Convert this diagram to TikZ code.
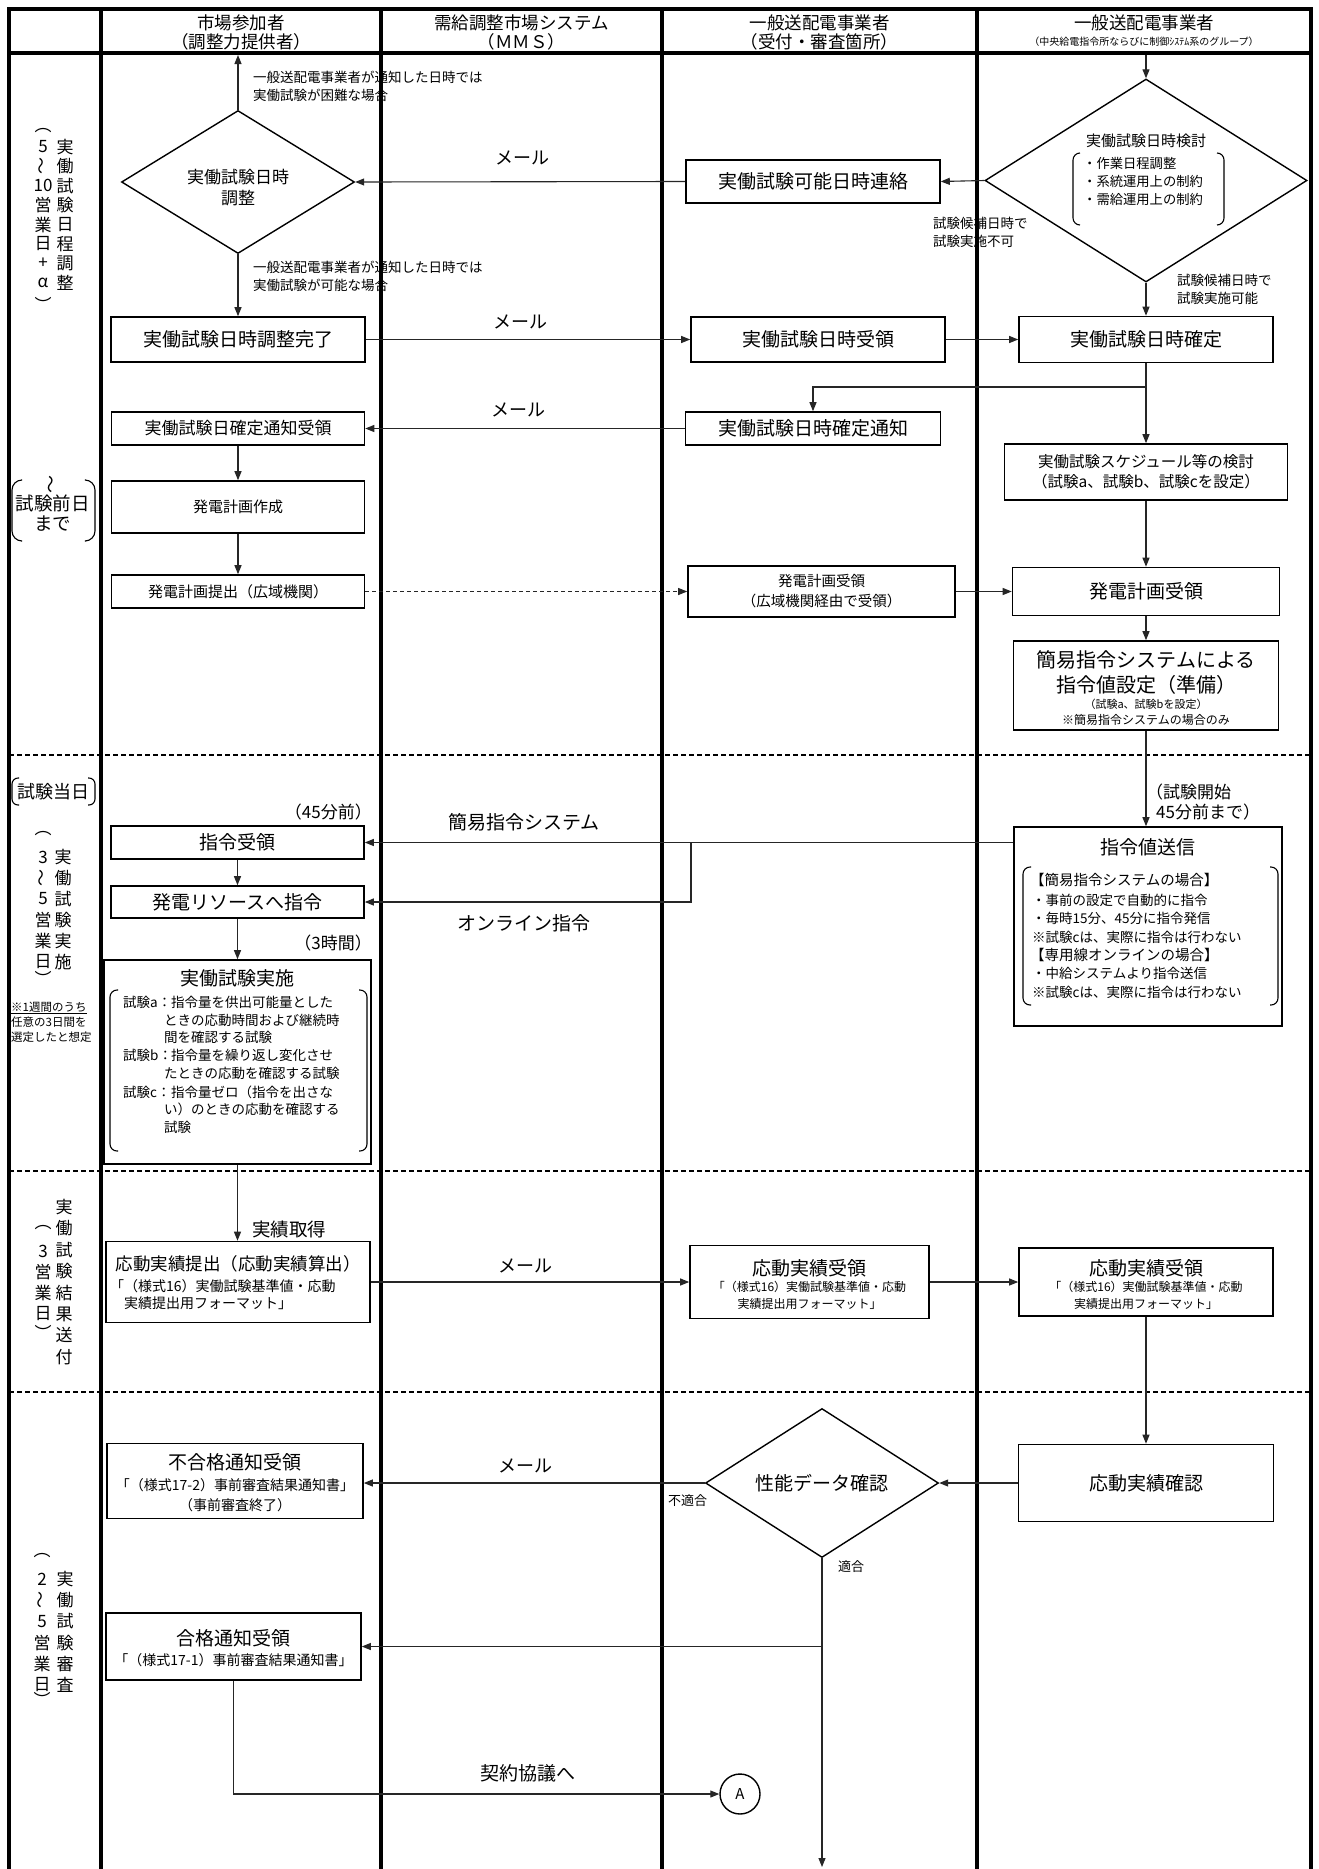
\documentclass[tikz,border=0pt]{standalone}
\usepackage{fontspec}
\usepackage{graphicx}
\setmainfont{Noto Sans CJK JP}
\usetikzlibrary{shapes.geometric,arrows.meta}
\newcommand\fsz[2]{\fontsize{#1}{#2}\selectfont}
\newcommand\vwave{\rotatebox[origin=c]{90}{〜}}
\newcommand\vcol[5]{\foreach \vchar [count=\k] in {#5}{\node[txt] (#1\k) at (#2,{#3+(\k-1)*#4}) {\vchar};}}
\begin{document}
\begin{tikzpicture}[x=1pt,y=-1pt,
  laneline/.style={line width=3.5pt,line cap=rect},
  rowsep/.style={line width=2pt,dash pattern=on 5pt off 3pt},
  bx/.style={draw,line width=1.6pt,fill=white,inner sep=0pt,align=center},
  dia/.style={diamond,draw,line width=1.4pt,inner sep=0pt,fill=white},
  txt/.style={inner sep=0pt,align=center},
  ltxt/.style={inner sep=0pt,align=left,anchor=west},
  brk/.style={line width=1.1pt,rounded corners=7pt},
  conn/.style={line width=1.1pt,draw=black!85,-{Triangle[length=9pt,width=7pt]}},
  ln/.style={line width=1.1pt,draw=black!85},
  big/.style={font={\fsz{19}{22}}},
  note/.style={font={\fsz{13.5}{18}}},
]
\useasboundingbox (0,0) rectangle (1319,1869);
\fill[white] (0,0) rectangle (1319,1869);
% frame
\draw[laneline] (9,9) -- (1311,9);
\draw[line width=4pt] (9,53) -- (1311,53);
\foreach \x in {9,101,381,662,977,1311} \draw[laneline] (\x,9) -- (\x,1869);
\foreach \y in {755,1171,1392} \draw[rowsep] (9,\y) -- (1311,\y);

% header
\begin{scope}[font={\fsz{17.5}{19}}]
\node[txt] (h1) at (241,32.5) {市場参加者\\（調整力提供者）};
\node[txt] (h2) at (521.5,32.5) {需給調整市場システム\\（ＭＭＳ）};
\node[txt] (h3) at (819.5,32.5) {一般送配電事業者\\（受付・審査箇所）};
\node[txt] (h4) at (1144,23) {一般送配電事業者};
\end{scope}
\node[txt,font={\fsz{10}{12}}] (h4s) at (1144,42) {（中央給電指令所ならびに制御ｼｽﾃﾑ系のグループ）};

% ---------- section 1 ----------
\begin{scope}[font={\fsz{17}{20}}]
\vcol{sa}{65}{147}{19.4}{実,働,試,験,日,程,調,整}
\vcol{sb}{43}{147}{19.4}{5,\vwave,10,営,業,日,+,α}
\node[txt] (sp1) at (43,131) {︵};
\node[txt] (sp2) at (43,304) {︶};
\end{scope}
\draw[brk,rounded corners=10pt] (21,480) -- (12,480) -- (12,541) -- (21,541);
\draw[brk,rounded corners=10pt] (86,480) -- (95,480) -- (95,541) -- (86,541);
\node[txt,font={\fsz{18}{20}}] (zen1) at (53,484) {\vwave};
\node[txt,font={\fsz{18.5}{20}}] (zen2) at (53,513) {試験前日\\まで};

\node[dia,minimum width=233pt,minimum height=143pt] (d1) at (238,182) {};
\node[txt,font={\fsz{17}{21}}] (d1t) at (238,187.5) {実働試験日時\\調整};
\coordinate (top1) at (238,55);
\draw[conn] (d1.north) -- (top1);
\node[ltxt,note] (n1) at (253,86) {一般送配電事業者が通知した日時では\\実働試験が困難な場合};
\node[ltxt,note] (n2) at (253,276.5) {一般送配電事業者が通知した日時では\\実働試験が可能な場合};
\node[txt,font={\fsz{18}{20}}] (m1) at (522,158) {メール};
\node[bx,big,minimum width=254pt,minimum height=43pt] (kano) at (813,181.5) {実働試験可能日時連絡};
\node[dia,minimum width=322pt,minimum height=203pt] (d2) at (1146,180.5) {};
\node[txt,font={\fsz{15}{18}}] (d2t) at (1146,141) {実働試験日時検討};
\begin{scope}[font={\fsz{13.3}{18}}]
\node[ltxt] (d2a) at (1083,163) {・作業日程調整};
\node[ltxt] (d2b) at (1083,181) {・系統運用上の制約};
\node[ltxt] (d2c) at (1083,199) {・需給運用上の制約};
\end{scope}
\draw[brk] (1080,153) -- (1073,153) -- (1073,225) -- (1080,225);
\draw[brk] (1217,153) -- (1224,153) -- (1224,225) -- (1217,225);
\coordinate (top2) at (1146,55);
\draw[conn] (top2) -- (d2.north);
\draw[conn] (d2.west) -- (kano.east);
\draw[conn] (kano.west) -- (d1.east);
\node[ltxt,note] (n3) at (933,232) {試験候補日時で\\試験実施不可};
\node[ltxt,note] (n4) at (1177,289.5) {試験候補日時で\\試験実施可能};

\node[bx,big,minimum width=254pt,minimum height=45pt] (kansei) at (238,339.5) {実働試験日時調整完了};
\node[bx,big,minimum width=254pt,minimum height=45pt] (juryo) at (818,339.5) {実働試験日時受領};
\node[bx,big,minimum width=254pt,minimum height=46pt] (kakutei) at (1146,339.5) {実働試験日時確定};
\draw[conn] (d1.south) -- (kansei.north);
\draw[conn] (d2.south) -- (kakutei.north);
\node[txt,font={\fsz{18}{20}}] (m2) at (520,322) {メール};
\draw[conn] (kansei.east) -- (juryo.west);
\draw[conn] (juryo.east) -- (kakutei.west);

\node[bx,big,minimum width=255pt,minimum height=33pt] (tsuchi) at (813,428.5) {実働試験日時確定通知};
\node[bx,minimum width=283pt,minimum height=56pt,font={\fsz{15.5}{20}}] (sched) at (1146,472) {実働試験スケジュール等の検討\\（試験a、試験b、試験cを設定）};
\coordinate (j1) at (1146,387);
\draw[ln] (kakutei.south) -- (j1);
\draw[conn] (j1) -| (tsuchi.north);
\draw[conn] (j1) -- (sched.north);
\node[txt,font={\fsz{18}{20}}] (m3) at (518,410) {メール};
\node[bx,minimum width=253pt,minimum height=33pt,font={\fsz{17}{20}}] (tjuryo) at (238,428.5) {実働試験日確定通知受領};
\draw[conn] (tsuchi.west) -- (tjuryo.east);
\node[bx,minimum width=253pt,minimum height=52pt,font={\fsz{15}{18}}] (sakusei) at (238,507) {発電計画作成};
\node[bx,minimum width=253pt,minimum height=33pt,font={\fsz{15}{18}}] (teishutsu) at (238,591.5) {発電計画提出（広域機関）};
\draw[conn] (tjuryo.south) -- (sakusei.north);
\draw[conn] (sakusei.south) -- (teishutsu.north);
\node[bx,minimum width=267pt,minimum height=51pt,font={\fsz{14.5}{20}}] (kjuryo) at (821.5,591.5) {発電計画受領\\（広域機関経由で受領）};
\draw[conn,dash pattern=on 4pt off 3pt,line width=0.9pt] (teishutsu.east) -- (kjuryo.west);
\node[bx,big,minimum width=267pt,minimum height=48pt] (hjuryo) at (1146,591.5) {発電計画受領};
\draw[conn] (kjuryo.east) -- (hjuryo.west);
\draw[conn] (sched.south) -- (hjuryo.north);

\node[bx,minimum width=265pt,minimum height=89pt] (kanni) at (1146,685.5) {};
\node[txt,font={\fsz{20}{24}}] (k1) at (1146,660) {簡易指令システムによる};
\node[txt,font={\fsz{20}{24}}] (k2) at (1146,685) {指令値設定（準備）};
\node[txt,font={\fsz{11}{13}}] (k3) at (1146,704) {（試験a、試験bを設定）};
\node[txt,font={\fsz{12}{14}}] (k4) at (1146,720) {※簡易指令システムの場合のみ};
\draw[conn] (hjuryo.south) -- (kanni.north);

% ---------- section 2 ----------
\draw[brk,rounded corners=6pt] (19,778) -- (12,778) -- (12,805) -- (19,805);
\draw[brk,rounded corners=6pt] (88,778) -- (95,778) -- (95,805) -- (88,805);
\node[txt,font={\fsz{18}{20}}] (td) at (53.5,791.5) {試験当日};
\begin{scope}[font={\fsz{17}{20}}]
\vcol{sc}{63}{857}{21}{実,働,試,験,実,施}
\vcol{sd}{43}{857}{21}{3,\vwave,5,営,業,日}
\node[txt] (sp3) at (43,834) {︵};
\node[txt] (sp4) at (43,978) {︶};
\end{scope}
\node[ltxt,font={\fsz{11.5}{15}}] (nt) at (11,1022) {\underline{※1週間のうち}\\任意の3日間を\\選定したと想定};

\node[txt,anchor=east,font={\fsz{17}{20}}] (t45) at (372,812) {（45分前）};
\node[bx,big,minimum width=253pt,minimum height=33pt] (shirei) at (237.5,842.5) {指令受領};
\node[bx,big,minimum width=253pt,minimum height=32pt] (resource) at (237.5,902) {発電リソースへ指令};
\draw[conn] (shirei.south) -- (resource.north);
\node[txt,anchor=east,font={\fsz{17}{20}}] (t3h) at (372,943) {（3時間）};
\node[bx,minimum width=267pt,minimum height=204pt] (jisshi) at (237.5,1062) {};
\draw[conn] (resource.south) -- (jisshi.north);
\node[txt,font={\fsz{19}{22}}] (jt) at (237.5,978) {実働試験実施};
\draw[brk] (118,990) -- (110,990) -- (110,1151) -- (118,1151);
\draw[brk] (359,990) -- (367,990) -- (367,1151) -- (359,1151);
\begin{scope}[font={\fsz{13.5}{17}}]
\node[ltxt] (ja) at (123,1002) {試験a：};
\node[ltxt] (ja1) at (171,1002) {指令量を供出可能量とした};
\node[ltxt] (ja2) at (164,1020) {ときの応動時間および継続時};
\node[ltxt] (ja3) at (164,1037) {間を確認する試験};
\node[ltxt] (jb) at (123,1055) {試験b：};
\node[ltxt] (jb1) at (171,1055) {指令量を繰り返し変化させ};
\node[ltxt] (jb2) at (164,1073) {たときの応動を確認する試験};
\node[ltxt] (jc) at (123,1092) {試験c：};
\node[ltxt] (jc1) at (171,1092) {指令量ゼロ（指令を出さな};
\node[ltxt] (jc2) at (164,1109) {い）のときの応動を確認する};
\node[ltxt] (jc3) at (164,1127) {試験};
\end{scope}

\node[bx,minimum width=268pt,minimum height=199pt] (sousin) at (1148,926.5) {};
\draw[conn] (kanni.south) -- (kanni.south |- sousin.north);
\node[ltxt,font={\fsz{17}{20}}] (ts1) at (1146,792) {（試験開始};
\node[ltxt,font={\fsz{17}{20}}] (ts2) at (1156,812) {45分前まで）};
\node[txt,font={\fsz{19}{22}}] (st) at (1148,847) {指令値送信};
\draw[brk] (1031,867) -- (1023,867) -- (1023,1005) -- (1031,1005);
\draw[brk] (1270,867) -- (1278,867) -- (1278,1005) -- (1270,1005);
\begin{scope}[font={\fsz{13.5}{17}}]
\node[ltxt,font={\fsz{14.5}{17}}] (s1) at (1030,880) {【簡易指令システムの場合】};
\node[ltxt] (s2) at (1032,900) {・事前の設定で自動的に指令};
\node[ltxt] (s3) at (1032,918) {・毎時15分、45分に指令発信};
\node[ltxt] (s4) at (1032,937) {※試験cは、実際に指令は行わない};
\node[ltxt,font={\fsz{14.5}{17}}] (s5) at (1030,955) {【専用線オンラインの場合】};
\node[ltxt] (s6) at (1032,973) {・中給システムより指令送信};
\node[ltxt] (s7) at (1032,992) {※試験cは、実際に指令は行わない};
\end{scope}
\draw[conn] (sousin.west |- shirei.east) -- (shirei.east);
\coordinate (j2) at (691,842.5);
\draw[conn] (j2) |- (resource.east);
\node[txt,font={\fsz{19}{22}}] (lk) at (524,822) {簡易指令システム};
\node[txt,font={\fsz{19}{22}}] (lo) at (524,923) {オンライン指令};

% ---------- section 3 ----------
\begin{scope}[font={\fsz{17}{20}}]
\vcol{se}{64}{1207}{21.4}{実,働,試,験,結,果,送,付}
\vcol{sf}{43}{1251}{21}{3,営,業,日}
\node[txt] (sp5) at (43,1228) {︵};
\node[txt] (sp6) at (43,1332) {︶};
\end{scope}
\node[txt,font={\fsz{18.5}{20}}] (jt2) at (289,1229) {実績取得};
\node[bx,minimum width=264pt,minimum height=81pt] (oteishutsu) at (238,1282) {};
\draw[conn] (jisshi.south) -- (jisshi.south |- oteishutsu.north);
\node[txt,font={\fsz{17.5}{20}}] (ot1) at (238,1264) {応動実績提出（応動実績算出）};
\node[ltxt,font={\fsz{14}{17}}] (ot2) at (110,1286) {「（様式16）実働試験基準値・応動};
\node[ltxt,font={\fsz{14}{17}}] (ot3) at (124,1303) {実績提出用フォーマット」};
\node[txt,font={\fsz{18}{20}}] (m4) at (525,1266) {メール};
\node[bx,minimum width=239pt,minimum height=73pt] (oj1) at (809.5,1282) {};
\node[txt,font={\fsz{19}{22}}] (oj1t) at (809.5,1268) {応動実績受領};
\node[txt,font={\fsz{12}{14}}] (oj1a) at (809.5,1287) {「（様式16）実働試験基準値・応動};
\node[txt,font={\fsz{12}{14}}] (oj1b) at (809.5,1304) {実績提出用フォーマット」};
\node[bx,minimum width=254pt,minimum height=68pt] (oj2) at (1146,1282) {};
\node[txt,font={\fsz{19}{22}}] (oj2t) at (1146,1268) {応動実績受領};
\node[txt,font={\fsz{12}{14}}] (oj2a) at (1146,1287) {「（様式16）実働試験基準値・応動};
\node[txt,font={\fsz{12}{14}}] (oj2b) at (1146,1304) {実績提出用フォーマット」};
\draw[conn] (oteishutsu.east) -- (oj1.west);
\draw[conn] (oj1.east) -- (oj2.west);

% ---------- section 4 ----------
\begin{scope}[font={\fsz{17}{20}}]
\vcol{sg}{65}{1579}{21.2}{実,働,試,験,審,査}
\vcol{sh}{42}{1579}{21.2}{2,\vwave,5,営,業,日}
\node[txt] (sp7) at (42,1556) {︵};
\node[txt] (sp8) at (42,1699) {︶};
\end{scope}
\node[bx,big,minimum width=255pt,minimum height=77pt] (kakunin) at (1146,1483) {応動実績確認};
\draw[conn] (oj2.south) -- (kakunin.north);
\node[dia,minimum width=233pt,minimum height=149pt] (d3) at (822,1483) {};
\node[txt,font={\fsz{19}{22}}] (d3t) at (822,1483) {性能データ確認};
\draw[conn] (kakunin.west) -- (d3.east);
\node[bx,minimum width=256pt,minimum height=75pt] (fugo) at (235,1481) {};
\node[txt,font={\fsz{19}{22}}] (fg1) at (235,1462) {不合格通知受領};
\node[txt,font={\fsz{14}{17}}] (fg2) at (235,1485) {「（様式17-2）事前審査結果通知書」};
\node[txt,font={\fsz{14}{17}}] (fg3) at (235,1505) {（事前審査終了）};
\node[txt,font={\fsz{18}{20}}] (m5) at (525,1466) {メール};
\draw[conn] (d3.west) -- (d3.west -| fugo.east);
\node[ltxt,font={\fsz{13}{16}}] (fut) at (668,1501) {不適合};
\node[ltxt,font={\fsz{13}{16}}] (tek) at (838,1567) {適合};
\coordinate (bot) at (822,1867);
\draw[conn] (d3.south) -- (bot);
\node[bx,minimum width=255pt,minimum height=67pt] (goukaku) at (233.5,1646.5) {};
\node[txt,font={\fsz{19}{22}}] (gk1) at (233.5,1638) {合格通知受領};
\node[txt,font={\fsz{14}{17}}] (gk2) at (233.5,1660) {「（様式17-1）事前審査結果通知書」};
\draw[conn] (d3.south |- goukaku.east) -- (goukaku.east);
\node[circle,draw,line width=1.4pt,minimum size=40pt,inner sep=0pt,font={\fsz{15}{18}}] (A) at (740,1794) {A};
\draw[conn] (goukaku.south) |- (A.west);
\node[txt,font={\fsz{19}{22}}] (kk) at (528,1773) {契約協議へ};
\end{tikzpicture}
\end{document}
